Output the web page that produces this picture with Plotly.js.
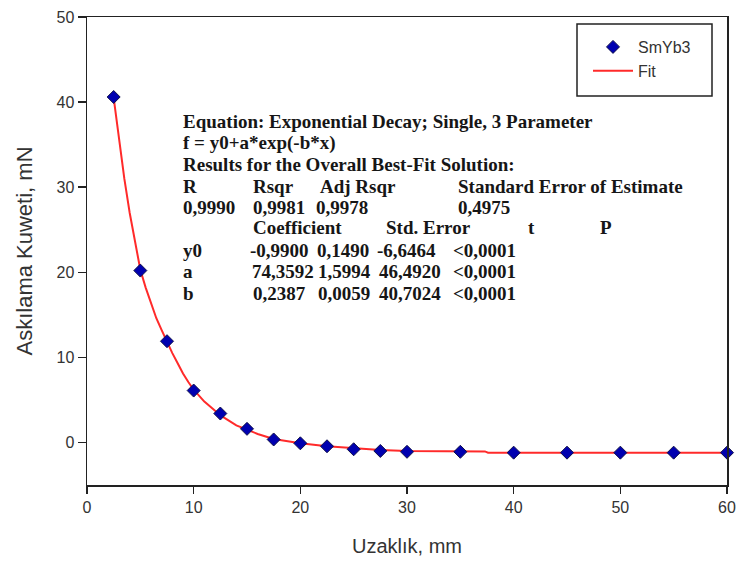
<!DOCTYPE html>
<html>
<head>
<meta charset="utf-8">
<script src="https://cdn.plot.ly/plotly-3.0.1.min.js"></script>
<style>
html,body{margin:0;padding:0;background:#fff;}
#chart{width:737px;height:565px;}
</style>
</head>
<body>
<div id="chart"></div>
<script>
// Measured data (SmYb3)
var distance = [2.5, 5, 7.5, 10, 12.5, 15, 17.5, 20, 22.5, 25, 27.5, 30, 35, 40, 45, 50, 55, 60];
var force = [40.6, 20.2, 11.9, 6.1, 3.4, 1.6, 0.35, -0.1, -0.45, -0.8, -1.0, -1.1, -1.1, -1.2, -1.2, -1.2, -1.2, -1.2];

// Fit curve
var fitX = [2.5, 3, 3.5, 4, 4.5, 5, 5.5, 6, 6.5, 7, 7.5, 8, 8.5, 9, 9.5, 10, 11, 12, 12.5, 13, 14, 15, 16, 17.5, 19, 20, 22.5, 25, 27.5, 30, 33, 37.3, 37.6, 40, 45, 50, 55, 60];
var fitY = [40.5, 35.5, 31.0, 27.0, 23.5, 20.3, 18.2, 16.3, 14.6, 13.2, 11.8, 10.5, 9.3, 8.1, 7.1, 6.2, 4.8, 3.7, 3.2, 2.8, 2.0, 1.5, 1.0, 0.4, 0.05, -0.1, -0.45, -0.7, -0.9, -1.0, -1.05, -1.05, -1.2, -1.2, -1.2, -1.2, -1.2, -1.2];

var xTicks = [0, 10, 20, 30, 40, 50, 60];
var yTicks = [0, 10, 20, 30, 40, 50];

var seriesNames = ["SmYb3", "Fit"];
var xTitle = "Uzaklık, mm";
var yTitle = "Askılama Kuweti, mN";

// Regression report lines: [text, left px, center px]
var reportLines = [
  ["Equation: Exponential Decay; Single, 3 Parameter", 181, 122],
  ["f = y0+a*exp(-b*x)", 181, 143],
  ["Results for the Overall Best-Fit Solution:", 181, 164],
  ["R", 181, 186], ["Rsqr", 251, 186], ["Adj Rsqr", 318, 186], ["Standard Error of Estimate", 456, 186],
  ["0,9990", 181, 207], ["0,9981", 251, 207], ["0,9978", 314, 207], ["0,4975", 456, 207],
  ["Coefficient", 251, 228], ["Std. Error", 384, 228], ["t", 526, 228], ["P", 598, 228],
  ["y0", 181, 250], ["-0,9900", 248, 250], ["0,1490", 315, 250], ["-6,6464", 375, 250], ["<0,0001", 451, 250],
  ["a", 181, 271], ["74,3592", 250, 271], ["1,5994", 316, 271], ["46,4920", 377, 271], ["<0,0001", 451, 271],
  ["b", 181, 293], ["0,2387", 251, 293], ["0,0059", 316, 293], ["40,7024", 377, 293], ["<0,0001", 451, 293]
];

var W = 737, H = 565, L = 87, R = 10, T = 17, B = 80;
var pw = W - L - R, ph = H - T - B;
function px2paperX(p){ return (p - L) / pw; }
function px2paperY(p){ return (H - B - p) / ph; }

var annotations = reportLines.map(function(r){
  return {
    text: '<b>' + r[0] + '</b>', xref: 'paper', yref: 'paper',
    x: px2paperX(r[1]), y: px2paperY(r[2]),
    xanchor: 'left', yanchor: 'middle', showarrow: false,
    font: {family: 'Liberation Serif, Times New Roman, serif', size: 19, color: '#161616'}
  };
});

var traces = [
  {
    x: fitX, y: fitY, name: seriesNames[1], type: 'scatter', mode: 'lines',
    line: {color: '#ff2a2a', width: 2},
    cliponaxis: false
  },
  {
    x: distance, y: force, name: seriesNames[0], type: 'scatter', mode: 'markers',
    marker: {symbol: 'diamond', size: 10, color: '#0000b0', line: {color: '#10104a', width: 1}},
    cliponaxis: false
  }
];

var axisFont = {family: 'Liberation Sans, Arial, sans-serif', size: 16, color: '#333'};

var layout = {
  width: W, height: H,
  margin: {l: L, r: R, t: T, b: B},
  paper_bgcolor: '#fff', plot_bgcolor: '#fff',
  showlegend: true,
  legend: {
    x: px2paperX(588), y: px2paperY(30), xanchor: 'left', yanchor: 'top',
    bgcolor: 'rgba(0,0,0,0)', borderwidth: 0, itemwidth: 40,
    font: {family: 'Liberation Sans, Arial, sans-serif', size: 16, color: '#333'},
    traceorder: 'reversed', tracegroupgap: 0
  },
  shapes: [{
    type: 'rect', xref: 'paper', yref: 'paper',
    x0: px2paperX(577), x1: px2paperX(712), y0: px2paperY(24), y1: px2paperY(96),
    line: {color: '#222', width: 1.5}, fillcolor: 'rgba(0,0,0,0)'
  }],
  xaxis: {
    range: [0, 60], tickvals: xTicks, ticktext: xTicks.map(String),
    showgrid: false, zeroline: false, showline: true, mirror: true,
    linecolor: '#222', linewidth: 1.5, ticks: 'outside', ticklen: 7, tickwidth: 1.5, tickcolor: '#222',
    tickfont: axisFont,
    title: {text: xTitle, font: {family: 'Liberation Sans, Arial, sans-serif', size: 20, color: '#333'}, standoff: 24}
  },
  yaxis: {
    range: [-5, 50], tickvals: yTicks, ticktext: yTicks.map(String),
    showgrid: false, zeroline: false, showline: true, mirror: true,
    linecolor: '#222', linewidth: 1.5, ticks: 'outside', ticklen: 8, tickwidth: 1.5, tickcolor: '#222',
    tickfont: axisFont,
    title: {text: yTitle, font: {family: 'Liberation Sans, Arial, sans-serif', size: 22, color: '#333'}, standoff: 18}
  },
  annotations: annotations
};

Plotly.newPlot('chart', traces, layout, {displayModeBar: false, staticPlot: true});
</script>
</body>
</html>
